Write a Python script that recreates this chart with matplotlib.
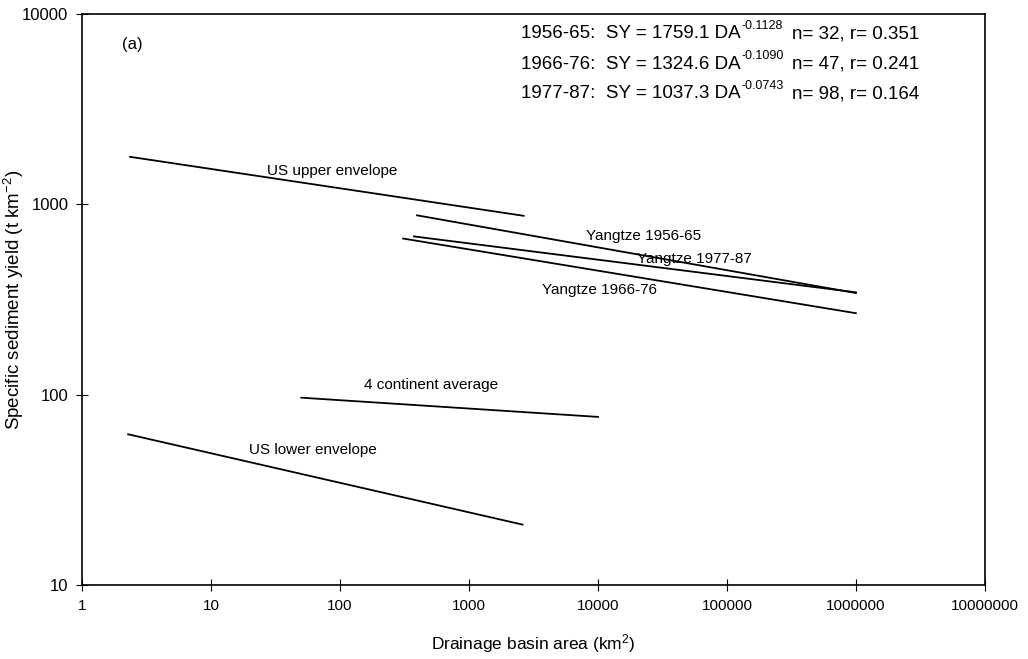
import matplotlib
matplotlib.use("Agg")
import matplotlib.pyplot as plt
from matplotlib.ticker import FixedLocator, FixedFormatter, NullLocator

plt.rcParams['font.family'] = ['Liberation Sans', 'DejaVu Sans']
plt.rcParams['mathtext.default'] = 'regular'

# line endpoints (drainage area km2, yield t/km2)
series_names = ["US upper envelope", "Yangtze 1956-65", "Yangtze 1977-87",
                "Yangtze 1966-76", "4 continent average", "US lower envelope"]
series_x = [[2.35, 2650], [395, 1000000], [374, 1000000],
            [308, 1000000], [50, 10000], [2.27, 2600]]
series_y = [[1775, 870], [875, 342], [678, 345],
            [661, 268], [96.5, 76.5], [62, 20.8]]

# label anchor points (left edge, vertical centre)
label_x = [26.9, 8130, 20100, 3650, 154, 19.5]
label_y = [1496, 685, 518, 355, 113, 51]

x_ticks = [1, 10, 100, 1000, 10000, 100000, 1000000, 10000000]
y_ticks = [10, 100, 1000, 10000]

eq_periods = ["1956-65", "1966-76", "1977-87"]
eq_coef = ["1759.1", "1324.6", "1037.3"]
eq_exp = ["-0.1128", "-0.1090", "-0.0743"]
eq_n = [32, 47, 98]
eq_r = ["0.351", "0.241", "0.164"]

fig = plt.figure(figsize=(10.28, 6.59), dpi=100)
ax = fig.add_axes([0.080, 0.112, 0.878, 0.867])

for xs, ys in zip(series_x, series_y):
    ax.plot(xs, ys, color="black", lw=1.3)
for name, lx, ly in zip(series_names, label_x, label_y):
    ax.text(lx, ly, name, fontsize=11, ha="left", va="center")

ax.set_xscale("log"); ax.set_yscale("log")
ax.set_xlim(1, 1e7); ax.set_ylim(10, 10000)
ax.xaxis.set_major_locator(FixedLocator(x_ticks))
ax.xaxis.set_major_formatter(FixedFormatter([str(v) for v in x_ticks]))
ax.yaxis.set_major_locator(FixedLocator(y_ticks))
ax.yaxis.set_major_formatter(FixedFormatter([str(v) for v in y_ticks]))
ax.xaxis.set_minor_locator(NullLocator()); ax.yaxis.set_minor_locator(NullLocator())
ax.tick_params(direction="inout", length=8, width=0.8, labelsize=11, pad=6)
ax.tick_params(axis="y", labelsize=12)
for s in ax.spines.values():
    s.set_linewidth(1.2)

ax.set_xlabel("Drainage basin area (km$^2$)", fontsize=12.5, labelpad=14)
ax.set_ylabel("Specific sediment yield (t km$^{-2}$)", fontsize=13.5)
ax.yaxis.set_label_coords(-0.062, 0.5)

ax.text(0.044, 0.946, "(a)", transform=ax.transAxes, fontsize=12, va="center")
row_y = [0.965, 0.912, 0.860]
for p, c, e, n, r, yy in zip(eq_periods, eq_coef, eq_exp, eq_n, eq_r, row_y):
    t = ax.text(0.486, yy, f"{p}:  SY = {c} DA", transform=ax.transAxes,
                fontsize=13.5, va="center")
    # superscript as plain text so the sign stays a hyphen
    ax.annotate(e, xy=(1, 0.62), xycoords=t, xytext=(1, 0),
                textcoords="offset points", fontsize=9, va="bottom")
    ax.text(0.786, yy, f"n= {n}, r= {r}", transform=ax.transAxes,
            fontsize=13.5, va="center")

fig.savefig("out.png", dpi=100)
